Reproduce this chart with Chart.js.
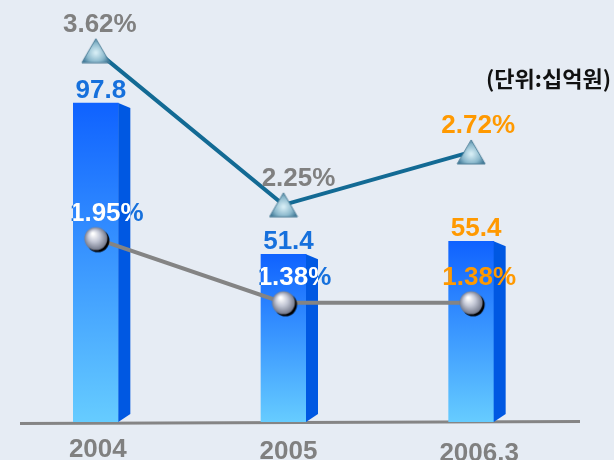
<!DOCTYPE html>
<html>
<head>
<meta charset="utf-8">
<script src="https://cdn.jsdelivr.net/npm/chart.js@4.4.1/dist/chart.umd.min.js"></script>
<style>
  body { margin: 0; background: #e6ecf4; }
  #wrap { width: 614px; height: 460px; }
</style>
</head>
<body>
<div id="wrap"><canvas id="chart" width="614" height="460"></canvas></div>
<script>
const categories = ['2004', '2005', '2006.3'];
const amounts = [97.8, 51.4, 55.4];          // 십억원
const rateTop = [3.62, 2.25, 2.72];          // triangle series (%)
const rateBottom = [1.95, 1.38, 1.38];       // sphere series (%)
const unitText = '(단위:십억원)';

const BLUE = '#1670dc', ORANGE = '#ff9900', GRAY = '#808080';
const valueColors = [BLUE, BLUE, ORANGE];
const topColors = [GRAY, GRAY, ORANGE];
const topNudge = [4, 15, 7];   // label x nudge beside the triangles
const FONT = 'bold 26px "Liberation Sans", Arial, sans-serif';

// point images
function makeSphere() {
  const c = document.createElement('canvas');
  c.width = 30; c.height = 30;
  const g = c.getContext('2d');
  g.fillStyle = '#000';
  g.beginPath(); g.arc(17, 17, 11.5, 0, Math.PI * 2); g.fill();
  const rg = g.createRadialGradient(12, 10, 1, 15, 15, 12);
  rg.addColorStop(0, '#ffffff');
  rg.addColorStop(0.45, '#c4c8d6');
  rg.addColorStop(1, '#6c7284');
  g.fillStyle = rg;
  g.beginPath(); g.arc(15, 15, 11.5, 0, Math.PI * 2); g.fill();
  return c;
}
function makeTriangle() {
  const c = document.createElement('canvas');
  c.width = 30; c.height = 26;
  const g = c.getContext('2d');
  g.beginPath();
  g.moveTo(15, 1); g.lineTo(29, 25); g.lineTo(1, 25); g.closePath();
  const rg = g.createRadialGradient(15, 15, 1, 15, 15, 15);
  rg.addColorStop(0, '#d4ecf4');
  rg.addColorStop(0.6, '#8ab8cc');
  rg.addColorStop(1, '#3f7896');
  g.fillStyle = rg;
  g.fill();
  g.strokeStyle = '#4f7f98';
  g.lineWidth = 1;
  g.stroke();
  return c;
}

function barRects(chart) {
  const meta = chart.getDatasetMeta(0);
  return meta.data.map(b => {
    const left = b.x - b.width / 2, right = b.x + b.width / 2;
    return { left, right, top: b.y, bottom: b.base };
  });
}

const decor = {
  id: 'decor',
  beforeDatasetsDraw(chart) {
    const ctx = chart.ctx;
    const base = chart.scales.y.getPixelForValue(0);
    ctx.save();
    ctx.strokeStyle = '#858585';
    ctx.lineWidth = 3;
    ctx.beginPath();
    ctx.moveTo(20, base + 1.5); ctx.lineTo(580, base - 0.5);
    ctx.stroke();
    ctx.restore();
  },
  afterDatasetDraw(chart, args) {
    if (args.index !== 0) return;
    const ctx = chart.ctx;
    ctx.save();
    ctx.fillStyle = '#0058e2';
    barRects(chart).forEach(r => {
      ctx.beginPath();
      ctx.moveTo(r.right, r.top);
      ctx.lineTo(r.right + 12, r.top + 5);
      ctx.lineTo(r.right + 12, r.bottom - 8);
      ctx.lineTo(r.right, r.bottom);
      ctx.closePath();
      ctx.fill();
    });
    ctx.restore();
  },
  afterDatasetsDraw(chart) {
    const ctx = chart.ctx;
    const bars = barRects(chart);
    const topPts = chart.getDatasetMeta(1).data;
    const lowPts = chart.getDatasetMeta(2).data;
    ctx.save();
    ctx.font = FONT;
    ctx.textAlign = 'center';
    ctx.textBaseline = 'alphabetic';

    amounts.forEach((v, i) => {
      const r = bars[i];
      ctx.fillStyle = valueColors[i];
      ctx.fillText(v.toFixed(1), (r.left + r.right) / 2 + 5, r.top - 5);
    });
    rateTop.forEach((v, i) => {
      const p = topPts[i];
      ctx.fillStyle = topColors[i];
      ctx.fillText(v.toFixed(2) + '%', p.x + topNudge[i], p.y - 19);
    });
    rateBottom.forEach((v, i) => {
      const p = lowPts[i];
      const tx = p.x + 11, ty = p.y - 18;
      const txt = v.toFixed(2) + '%';
      if (i === 2) {
        ctx.fillStyle = ORANGE;
        ctx.fillText(txt, tx - 3, ty);
        return;
      }
      ctx.fillStyle = BLUE;
      ctx.fillText(txt, tx, ty);
      const r = bars[i];
      ctx.save();
      ctx.beginPath();
      ctx.rect(r.left, r.top, r.right - r.left + 12, r.bottom - r.top);
      ctx.clip();
      ctx.fillStyle = '#ffffff';
      ctx.fillText(txt, tx, ty);
      ctx.restore();
    });

    // category labels
    ctx.fillStyle = GRAY;
    const xs = chart.scales.x;
    categories.forEach((c, i) => {
      ctx.fillText(c, xs.getPixelForValue(i) + 2 + i * 3, 457 + i * 2);
    });

    ctx.fillStyle = '#111';
    ctx.font = 'bold 22px "Noto Sans CJK KR", sans-serif';
    ctx.textAlign = 'right';
    ctx.fillText(unitText, 611, 87);
    ctx.restore();
  }
};

const ctx = document.getElementById('chart');
new Chart(ctx, {
  type: 'bar',
  data: {
    labels: categories,
    datasets: [
      {
        type: 'bar',
        data: amounts,
        yAxisID: 'y',
        order: 3,
        barThickness: 45,
        borderWidth: 0,
        backgroundColor(c) {
          const chart = c.chart;
          const ys = chart.scales.y;
          if (!ys || !chart.chartArea || c.raw === undefined) return '#3399ff';
          const top = ys.getPixelForValue(c.raw);
          const bottom = ys.getPixelForValue(0);
          const g = chart.ctx.createLinearGradient(0, top, 0, bottom);
          g.addColorStop(0, '#0f62ff');
          g.addColorStop(1, '#66ccff');
          return g;
        }
      },
      {
        type: 'line',
        data: rateTop,
        yAxisID: 'y1',
        order: 2,
        borderColor: '#136a94',
        borderWidth: 4,
        pointStyle: makeTriangle(),
        pointRadius: 13,
        fill: false
      },
      {
        type: 'line',
        data: rateBottom,
        yAxisID: 'y1',
        order: 1,
        borderColor: '#848484',
        borderWidth: 4,
        pointStyle: makeSphere(),
        pointRadius: 13,
        fill: false
      }
    ]
  },
  options: {
    responsive: false,
    animation: false,
    layout: { autoPadding: false, padding: { left: 2, right: 49, top: 0, bottom: 38 } },
    plugins: { legend: { display: false }, tooltip: { enabled: false } },
    scales: {
      x: { display: false },
      y: { display: false, min: 0, max: 129.4 },
      y1: { display: false, position: 'right', min: 0.32, max: 4.07 }
    }
  },
  plugins: [decor]
});
</script>
</body>
</html>
